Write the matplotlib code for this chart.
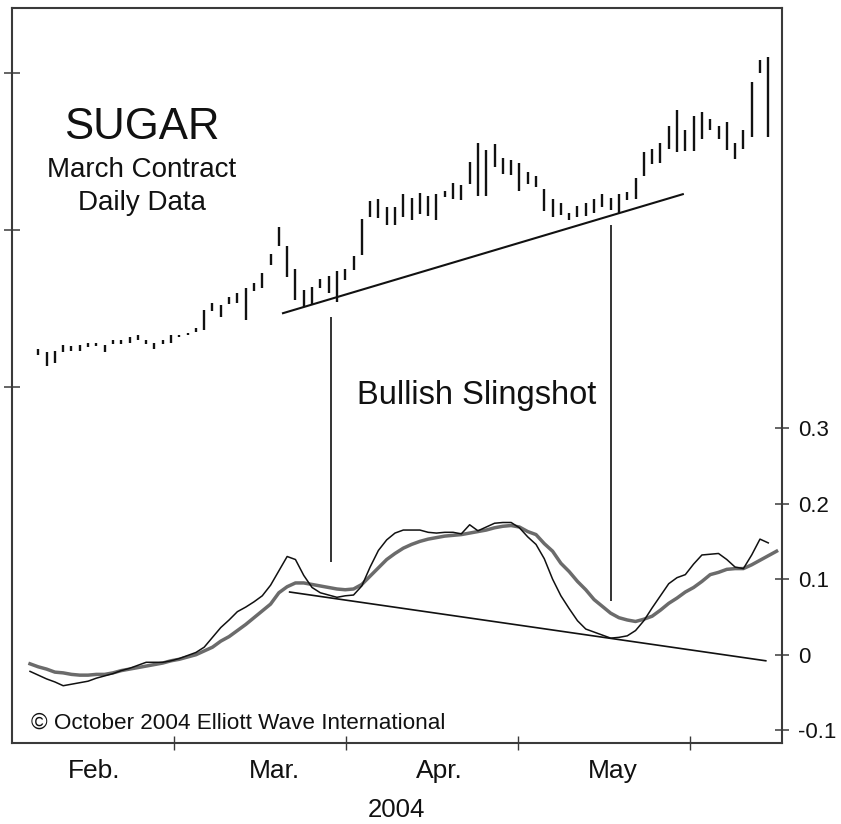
import matplotlib
matplotlib.use("Agg")
import matplotlib.pyplot as plt
import numpy as np

plt.rcParams['font.family'] = ['Liberation Sans', 'DejaVu Sans']

# daily high/low bars, sugar march contract
bar_high = [7.120, 7.111, 7.115, 7.134, 7.131, 7.134, 7.141, 7.141, 7.134, 7.150,
            7.150, 7.158, 7.166, 7.150, 7.141, 7.150, 7.166, 7.166, 7.171, 7.189,
            7.245, 7.269, 7.261, 7.288, 7.298, 7.314, 7.330, 7.364, 7.424, 7.509,
            7.449, 7.375, 7.309, 7.319, 7.344, 7.354, 7.370, 7.375, 7.418, 7.534,
            7.593, 7.598, 7.574, 7.574, 7.614, 7.603, 7.619, 7.608, 7.614, 7.625,
            7.649, 7.643, 7.718, 7.778, 7.755, 7.773, 7.728, 7.723, 7.714, 7.684,
            7.673, 7.630, 7.599, 7.585, 7.553, 7.577, 7.586, 7.598, 7.614, 7.603,
            7.614, 7.622, 7.665, 7.747, 7.758, 7.778, 7.832, 7.882, 7.818, 7.863,
            7.877, 7.853, 7.832, 7.843, 7.778, 7.818, 7.970, 8.041, 8.050]
bar_low = [7.102, 7.067, 7.076, 7.112, 7.116, 7.116, 7.126, 7.132, 7.111, 7.136,
           7.136, 7.141, 7.150, 7.136, 7.122, 7.136, 7.141, 7.160, 7.166, 7.176,
           7.182, 7.242, 7.223, 7.264, 7.267, 7.213, 7.306, 7.316, 7.389, 7.450,
           7.351, 7.277, 7.256, 7.264, 7.316, 7.300, 7.272, 7.341, 7.373, 7.420,
           7.540, 7.537, 7.516, 7.516, 7.540, 7.532, 7.551, 7.546, 7.532, 7.604,
           7.598, 7.596, 7.646, 7.608, 7.608, 7.700, 7.678, 7.675, 7.625, 7.646,
           7.636, 7.561, 7.540, 7.548, 7.532, 7.540, 7.545, 7.554, 7.574, 7.564,
           7.553, 7.596, 7.599, 7.673, 7.709, 7.712, 7.758, 7.749, 7.753, 7.753,
           7.790, 7.818, 7.790, 7.755, 7.725, 7.758, 7.797, 7.999, 7.797]
bar_day = np.arange(len(bar_high))

# oscillator, starts one session before the first bar
osc_fast = [-0.022, -0.027, -0.032, -0.036, -0.041, -0.039, -0.037, -0.035, -0.031, -0.028,
            -0.025, -0.021, -0.018, -0.014, -0.010, -0.010, -0.010, -0.008, -0.005, -0.001,
            0.003, 0.010, 0.023, 0.036, 0.046, 0.057, 0.063, 0.070, 0.078, 0.092,
            0.111, 0.130, 0.126, 0.105, 0.089, 0.082, 0.079, 0.076, 0.078, 0.079,
            0.091, 0.116, 0.138, 0.152, 0.161, 0.165, 0.165, 0.165, 0.162, 0.161,
            0.162, 0.162, 0.160, 0.172, 0.164, 0.169, 0.174, 0.175, 0.175, 0.168,
            0.156, 0.146, 0.127, 0.100, 0.078, 0.061, 0.045, 0.034, 0.030, 0.026,
            0.022, 0.023, 0.025, 0.032, 0.045, 0.062, 0.078, 0.094, 0.102, 0.106,
            0.120, 0.132, 0.133, 0.134, 0.126, 0.116, 0.114, 0.132, 0.153, 0.148]
osc_slow = [-0.012, -0.016, -0.019, -0.023, -0.024, -0.026, -0.027, -0.027, -0.026, -0.026,
            -0.024, -0.021, -0.019, -0.017, -0.015, -0.013, -0.011, -0.008, -0.006, -0.003,
            0.000, 0.005, 0.010, 0.018, 0.024, 0.032, 0.040, 0.049, 0.058, 0.067,
            0.082, 0.090, 0.095, 0.095, 0.093, 0.091, 0.089, 0.087, 0.086, 0.087,
            0.093, 0.104, 0.115, 0.126, 0.134, 0.141, 0.146, 0.150, 0.153, 0.155,
            0.157, 0.158, 0.159, 0.161, 0.163, 0.165, 0.168, 0.170, 0.171, 0.169,
            0.163, 0.159, 0.147, 0.137, 0.121, 0.110, 0.097, 0.086, 0.073, 0.064,
            0.055, 0.049, 0.046, 0.044, 0.047, 0.051, 0.059, 0.068, 0.075, 0.083,
            0.089, 0.097, 0.106, 0.109, 0.113, 0.114, 0.114, 0.119, 0.125, 0.131,
            0.137]
osc_fast_day = np.arange(-1, len(osc_fast) - 1)
osc_slow_day = np.arange(-1, len(osc_slow) - 1)

price_ticks = [7.0, 7.5, 8.0]
osc_ticks = [-0.1, 0, 0.1, 0.2, 0.3]
osc_tick_labels = ['-0.1', '0', '0.1', '0.2', '0.3']
month_bounds = [16.4, 37.1, 57.8, 78.6]
month_names = ['Feb.', 'Mar.', 'Apr.', 'May']
month_label_day = [6.7, 28.5, 48.3, 69.2]

# trend lines and the two connectors
price_trend_day = [29.5, 77.7]
price_trend_val = [7.235, 7.614]
osc_trend_day = [30.3, 87.7]
osc_trend_val = [0.083, -0.008]
link_day = [35.3, 69.0]
link_top = [0.4475, 0.569]
link_bottom = [0.123, 0.071]

frame = '#3a3a3a'
ink = '#111111'

fig = plt.figure(figsize=(8.41, 8.24), dpi=100)
ax = fig.add_axes([0.01427, 0.09866, 0.91523, 0.89163])
ax.set_xlim(-3.17, 89.62)
ax.set_ylim(5.867, 8.207)
ax2 = ax.twinx()
ax2.set_ylim(-0.1164, 0.8558)

for s in ax.spines.values():
	s.set_color(frame)
	s.set_linewidth(1.5)
for s in ax2.spines.values():
	s.set_visible(False)

ax.set_yticks(price_ticks)
ax.tick_params(axis='y', direction='inout', length=11, width=1.1, color=frame, labelleft=False)
ax.set_xticks(month_bounds)
ax.tick_params(axis='x', direction='inout', length=9.5, width=1.0, color=frame, labelbottom=False)
ax2.set_yticks(osc_ticks, osc_tick_labels)
ax2.tick_params(axis='y', direction='inout', length=10, width=1.1, color=frame,
				labelsize=16, pad=6.5, labelcolor=ink)

ax.vlines(bar_day, bar_low, bar_high, colors=ink, linewidth=1.7)
ax.plot(price_trend_day, price_trend_val, color=ink, lw=1.5)

ax2.plot(osc_slow_day, osc_slow, color='#6b6b6b', lw=2.5, solid_joinstyle='round')
ax2.plot(osc_fast_day, osc_fast, color=ink, lw=1.1)
ax2.plot(osc_trend_day, osc_trend_val, color=ink, lw=1.2)
ax2.vlines(link_day, link_bottom, link_top, colors=ink, linewidth=1.2)

for d, name in zip(month_label_day, month_names):
	ax.text(d, -0.0476, name, transform=ax.get_xaxis_transform(), ha='center',
			va='baseline', fontsize=19, color=ink)
ax.text(0.4989, -0.1005, '2004', transform=ax.transAxes, ha='center', va='baseline',
		fontsize=18.5, color=ink)

ax.text(0.1685, 0.8217, 'SUGAR', transform=ax.transAxes, ha='center', va='baseline',
		fontsize=31.5, color=ink)
ax.text(0.1685, 0.7706, 'March Contract', transform=ax.transAxes, ha='center',
		va='baseline', fontsize=20, color=ink)
ax.text(0.1685, 0.7251, 'Daily Data', transform=ax.transAxes, ha='center',
		va='baseline', fontsize=20, color=ink)
ax.text(0.6037, 0.4610, 'Bullish Slingshot', transform=ax.transAxes, ha='center',
		va='baseline', fontsize=23.5, color=ink)
ax.text(0.0243, 0.0187, '\u00a9 October 2004 Elliott Wave International',
		transform=ax.transAxes, ha='left', va='baseline', fontsize=16.2, color=ink)

fig.savefig('out.png', dpi=100)
